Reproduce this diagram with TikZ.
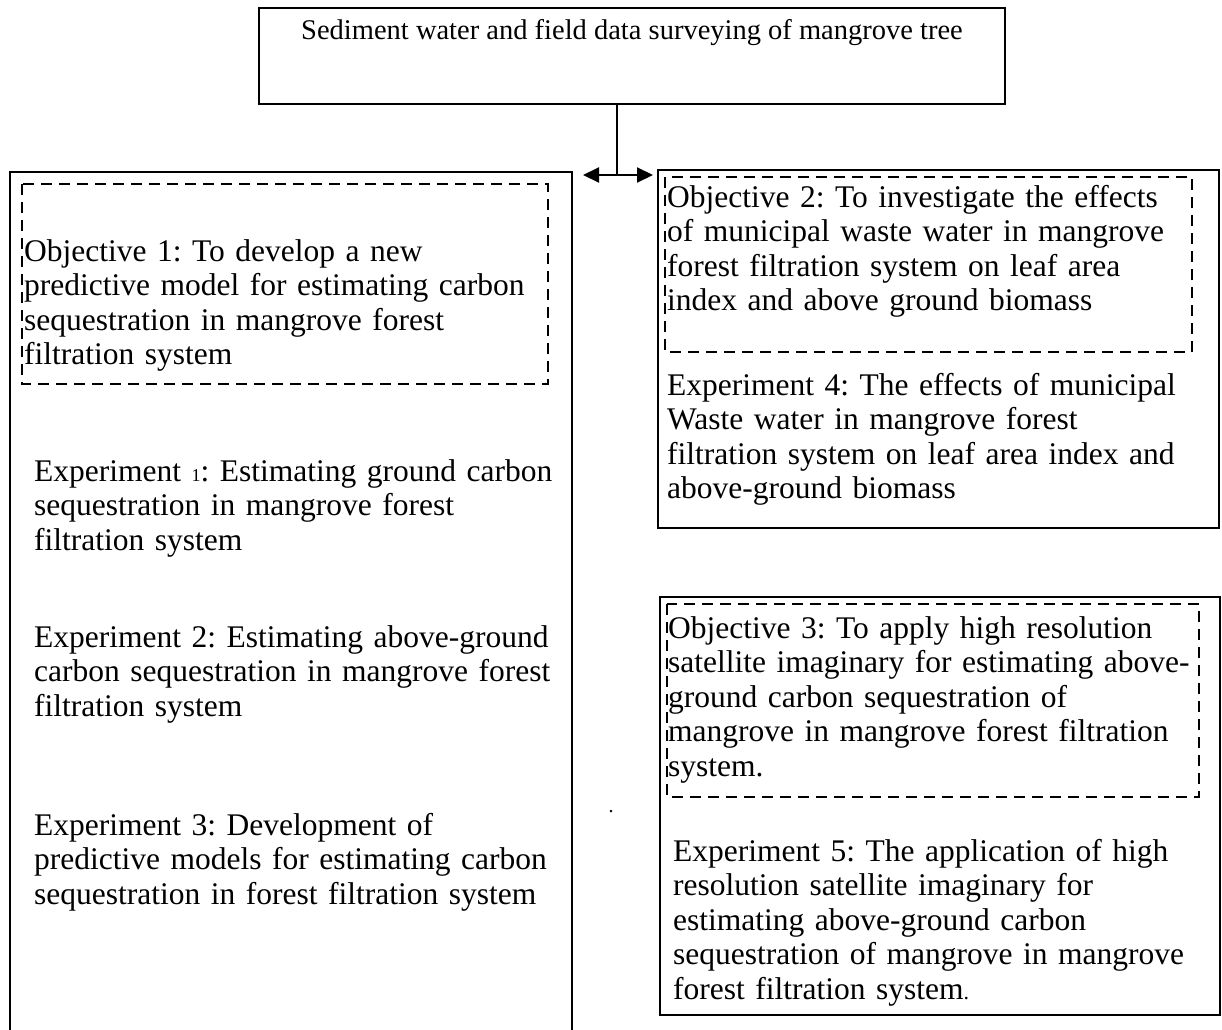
\documentclass[tikz,border=0pt]{standalone}
\usepackage{fontspec}
\setmainfont{Liberation Serif}
\usetikzlibrary{arrows.meta}
\frenchspacing
\begin{document}
\begin{tikzpicture}[x=1pt,y=-1pt,
  frame/.style={draw,line width=2pt},
  dashframe/.style={draw,line width=2.4pt,dash pattern=on 11pt off 7pt},
  body/.style={anchor=base west,inner sep=0pt,align=left,text width=#1,
    font=\fontsize{31.5}{34.5}\selectfont},
  body/.default=545pt,
  link/.style={line width=2pt},
  tip/.style={-{Triangle[length=16pt,width=15pt]}},
]
\useasboundingbox (0,0) rectangle (1222,1029);

% heading box
\node[frame,anchor=north west,minimum width=746pt,inner xsep=0pt,inner ysep=10pt,
      text height=21pt,text depth=55pt,font=\fontsize{28.5}{30}\selectfont]
  (survey) at (258,7) {Sediment water and field data surveying of mangrove tree};

% split to the two columns
\coordinate (hub)  at (617,175);
\coordinate (tipL) at (583,175);
\coordinate (tipR) at (653,175);
\draw[link] (survey.south -| hub) -- (hub);
\draw[link,tip] (hub) -- (tipL);
\draw[link,tip] (hub) -- (tipR);

% left column (open at the bottom)
\draw[frame] (10,1040) -- (10,172) -- (572,172) -- (572,1040);
\draw[dashframe] (22,184) rectangle (548,384);
\node[body=535pt] (obj1) at (24,261)
  {Objective 1: To develop a new\\predictive model for estimating carbon\\sequestration in mangrove forest\\filtration system};
\node[body=535pt] (exp1) at (34,481)
  {Experiment {\fontsize{18}{18}\selectfont 1}: Estimating ground carbon\\sequestration in mangrove forest\\filtration system};
\node[body=535pt] (exp2) at (34,647)
  {Experiment 2: Estimating above-ground\\carbon sequestration in mangrove forest\\filtration system};
\node[body=535pt] (exp3) at (34,835)
  {Experiment 3: Development of\\predictive models for estimating carbon\\sequestration in forest filtration system};

% right column, upper box
\draw[frame] (658,170) rectangle (1219,528);
\draw[dashframe] (665,177) rectangle (1192,352);
\node[body] (obj2) at (667,207)
  {Objective 2: To investigate the effects\\of municipal waste water in mangrove\\forest filtration system on leaf area\\index and above ground biomass};
\node[body] (exp4) at (667,395)
  {Experiment 4: The effects of municipal\\Waste water in mangrove forest\\filtration system on leaf area index and\\above-ground biomass};

% right column, lower box
\draw[frame] (660,597) rectangle (1220,1015);
\draw[dashframe] (667,604) rectangle (1199,797);
\node[body] (obj3) at (668,638)
  {Objective 3: To apply high resolution\\satellite imaginary for estimating above-\\ground carbon sequestration of\\mangrove in mangrove forest filtration\\system.};
\node[body] (exp5) at (673,861)
  {Experiment 5: The application of high\\resolution satellite imaginary for\\estimating above-ground carbon\\sequestration of mangrove in mangrove\\forest filtration system{\fontsize{22}{22}\selectfont .}};

\node[inner sep=0pt,font=\fontsize{20}{20}\selectfont] (dot) at (611,812) {.};
\end{tikzpicture}
\end{document}
